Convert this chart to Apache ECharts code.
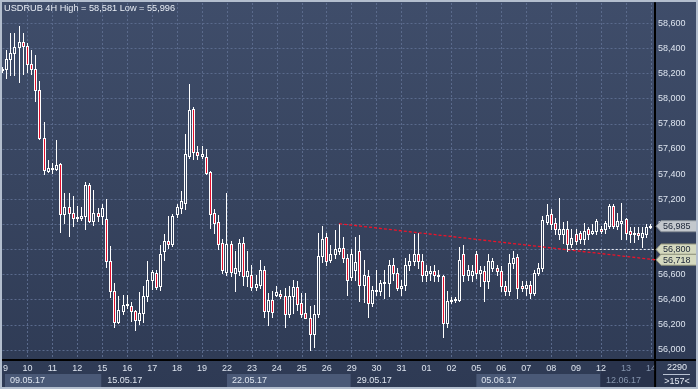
<!DOCTYPE html>
<html><head><meta charset="utf-8">
<script src="https://cdn.jsdelivr.net/npm/echarts@6.0.0/dist/echarts.min.js"></script>
<style>
html,body{margin:0;padding:0;}
#c{width:698px;height:389px;background:linear-gradient(to bottom,#3f4d6a 0%,#37445f 50%,#2e3a54 100%);}
</style>
</head><body><div id="c"></div>
<script>
const dayLabels = ['9','10','11','12','15','16','17','18','19','22','23','24','25','26','29','30','31','01','02','05','06','07','08','09','12','13','14'];
const weekLabels = ['09.05.17','15.05.17','22.05.17','29.05.17','05.06.17','12.06.17'];
const weekStartBar = [0,24,54,84,114,144];

const opens = [58226,58234,58320,58366,58410,58450,58420,58280,58240,58066,
57690,57426,57448,57440,57480,57085,57138,57093,57050,57052,
57066,57314,57026,57088,57066,57040,56706,56472,56221,56312,
56354,56352,56312,56240,56293,56426,56560,56613,56506,56786,
56866,56840,57080,57128,57173,57546,57920,57578,57544,57538,
57420,57093,57018,56853,56620,56845,56613,56626,56853,56586,
56600,56498,56520,56640,56312,56400,56440,56445,56426,56285,
56426,56498,56373,56298,56258,56125,56285,56746,56898,56720,
56760,56786,56813,56733,56580,56640,56786,56520,56586,56373,
56480,56466,56533,56533,56680,56613,56493,56520,56680,56706,
56760,56706,56600,56613,56626,56600,56586,56213,56392,56400,
56400,56760,56600,56600,56760,56613,56626,56546,56653,56653,
56626,56506,56466,56693,56740,56506,56493,56520,56453,56613,
56653,57020,57080,57013,56920,56920,56960,56840,56920,56930,
56880,56960,56930,56950,56960,56960,56990,57146,56990,57010,
57040,56946,56920,56930,56900,56920,56982];

const closes = [58234,58320,58366,58410,58450,58420,58280,58240,58066,57690,
57432,57448,57440,57474,57085,57138,57093,57053,57058,57066,
57314,57026,57088,57066,57128,56706,56472,56221,56320,56354,
56362,56312,56240,56293,56426,56560,56621,56498,56760,56866,
56840,57066,57138,57186,57560,57912,57573,57552,57560,57408,
57085,57013,56840,56640,56845,56620,56653,56853,56586,56626,
56498,56525,56640,56312,56400,56301,56461,56426,56285,56426,
56498,56365,56285,56258,56125,56285,56746,56880,56706,56760,
56800,56813,56733,56560,56760,56700,56520,56600,56373,56480,
56466,56533,56540,56680,56613,56493,56510,56680,56706,56760,
56706,56600,56626,56626,56600,56586,56213,56392,56400,56404,
56720,56600,56640,56626,56613,56640,56546,56706,56706,56626,
56506,56466,56693,56733,56493,56493,56520,56453,56613,56653,
57034,57073,57000,56960,56960,56960,56840,56890,56870,56880,
56946,56920,56950,57026,56950,57013,57146,56990,57026,57026,
56933,56920,56930,56913,56933,56980,56985];

const highs = [58250,58386,58520,58525,58581,58525,58445,58386,58346,58140,
57813,57512,57485,57674,57490,57253,57253,57226,57146,57138,
57338,57330,57274,57128,57160,57202,56826,56533,56426,56434,
56434,56378,56320,56461,56506,56706,56640,56637,56834,56920,
57066,57080,57160,57266,57720,58120,57933,57626,57626,57600,
57426,57120,57072,56880,57250,56866,56786,56880,56898,56786,
56680,56600,56720,56666,56453,56466,56506,56480,56493,56506,
56560,56546,56453,56453,56346,56360,56933,56990,56933,56834,
56954,57005,56898,56760,56800,56898,56914,56720,56640,56506,
56640,56560,56640,56720,56733,56653,56560,56733,56760,56925,
56933,56760,56680,56666,56680,56640,56600,56466,56420,56420,
56818,56834,56680,56680,56786,56666,56666,56760,56733,56680,
56666,56546,56760,56786,56760,56546,56546,56546,56640,56693,
57066,57160,57120,57050,57210,57020,57026,56960,56960,56950,
57013,56980,57000,57040,56990,57026,57160,57160,57093,57173,
57053,56980,56980,56980,56980,57000,57000];

const lows = [58210,58162,58186,58190,58130,58195,58213,58200,57980,57680,
57400,57413,57405,57435,56940,57013,56906,56986,57026,57034,
56960,57020,56992,57026,57000,56658,56418,56186,56213,56290,
56330,56232,56160,56205,56226,56386,56488,56482,56480,56720,
56813,56830,57060,57093,57120,57530,57520,57520,57530,57400,
56973,56933,56800,56610,56600,56586,56466,56600,56520,56506,
56480,56480,56493,56266,56200,56266,56426,56413,56186,56266,
56293,56320,56266,56253,55996,56026,56260,56700,56680,56700,
56730,56760,56700,56440,56560,56560,56386,56380,56266,56346,
56440,56440,56413,56430,56560,56480,56440,56480,56640,56680,
56653,56546,56546,56560,56546,56546,56106,56186,56373,56380,
56386,56546,56560,56546,56573,56506,56386,56493,56626,56600,
56466,56440,56440,56653,56413,56466,56440,56413,56440,56600,
56626,57000,56960,56920,56880,56850,56786,56820,56840,56850,
56840,56880,56920,56920,56930,56930,56970,56970,56960,56880,
56880,56860,56860,56880,56820,56900,56970];

const trendX = [81, 157];
const trendY = [57005, 56718];
const levelX = [136, 157];
const levelY = [56800, 56800];
const lastPrice = 56985;
const tagValues = [56800, 56718];
const titleText = 'USDRUB 4H High = 58,581 Low = 55,996';
const cornerTop = '2290';
const cornerBottom = '>157<';

const FONT = '"Liberation Sans", Arial, sans-serif';
const nBars = opens.length;
const categories = [];
for (let i = 0; i <= nBars; i++) categories.push(i % 6 === 0 && i < nBars ? dayLabels[i / 6] : '');
const candleData = opens.map((o, i) => [i, o, closes[i], lows[i], highs[i]]);
const fmt = v => Math.floor(v / 1000) + ',' + String(Math.round(v % 1000)).padStart(3, '0');

const BG_TOP = [0x3f, 0x4d, 0x6a], BG_MID = [0x37, 0x44, 0x5f], BG_BOT = [0x2e, 0x3a, 0x54];
function bgAt(y) {
  const t = Math.max(0, Math.min(1, y / 389));
  let a, b, u;
  if (t < 0.5) { a = BG_TOP; b = BG_MID; u = t / 0.5; } else { a = BG_MID; b = BG_BOT; u = (t - 0.5) / 0.5; }
  const c = a.map((v, k) => Math.round(v + (b[k] - v) * u));
  return 'rgb(' + c.join(',') + ')';
}

function renderCandle(params, api) {
  const idx = api.value(0);
  const o = api.value(1), c = api.value(2), l = api.value(3), h = api.value(4);
  const px = api.coord([idx, o]);
  const xc = Math.floor(px[0]);
  const yo = Math.round(px[1]);
  const yc = Math.round(api.coord([idx, c])[1]);
  const yl = Math.round(api.coord([idx, l])[1]);
  const yh = Math.round(api.coord([idx, h])[1]);
  const top = Math.min(yo, yc), bot = Math.max(yo, yc);
  const bull = c >= o;
  const children = [
    {type: 'rect', shape: {x: xc, y: yh, width: 1, height: yl - yh + 1}, style: {fill: '#ffffff'}},
    {type: 'rect', shape: {x: xc - 1, y: top, width: 3, height: bot - top + 1}, style: {fill: '#ffffff'}}
  ];
  if (bot - top >= 2) {
    children.push({type: 'rect', shape: {x: xc, y: top + 1, width: 1, height: bot - top - 1},
      style: {fill: bull ? bgAt((top + bot) / 2) : '#e3102d'}});
  }
  return {type: 'group', children: children};
}

const chart = echarts.init(document.getElementById('c'), null, {renderer: 'canvas'});
const GRID_LEFT = 1.84, GRID_RIGHT_X = 655.1, GRID_TOP = 3, GRID_BOTTOM_Y = 360;
chart.setOption({
  animation: false,
  backgroundColor: 'transparent',
  grid: {left: GRID_LEFT, right: 698 - GRID_RIGHT_X, top: GRID_TOP, bottom: 389 - GRID_BOTTOM_Y, containLabel: false},
  xAxis: {
    type: 'category', data: categories, boundaryGap: false,
    axisLine: {show: true, lineStyle: {color: '#000000', width: 2}},
    axisTick: {show: false},
    axisLabel: {
      interval: (i) => i % 6 === 0, margin: 4, color: '#dde4ef', fontSize: 9, fontFamily: FONT,
      formatter: (v, i) => i >= 150 ? '{d|' + v + '}' : (i === 0 ? '{f|' + v + '}' : v),
      rich: {d: {color: '#8594ad', fontSize: 9, fontFamily: FONT}, f: {color: '#dde4ef', fontSize: 9, fontFamily: FONT, padding: [0, 0, 0, 6]}}
    },
    splitLine: {show: true, interval: (i) => i % 6 === 0 && i > 0, lineStyle: {color: '#5a6a8c', width: 1, type: [2, 2]}}
  },
  yAxis: {
    type: 'value', position: 'right', min: 55920, max: 58762, splitNumber: 14, scale: true,
    axisLine: {show: true, lineStyle: {color: '#000000', width: 2}},
    axisTick: {show: false},
    axisLabel: {margin: 3, color: '#dde4ef', fontSize: 9, fontFamily: FONT,
      formatter: v => (Math.abs(v % 200) < 0.001 ? fmt(v) : '')},
    splitLine: {show: true, showMinLine: false, showMaxLine: false, lineStyle: {color: '#5a6a8c', width: 1, type: [2, 2]}}
  },
  series: [
    {type: 'custom', data: candleData, renderItem: renderCandle, encode: {x: 0, y: [1, 2, 3, 4]}, clip: true, silent: true, z: 3},
    {type: 'line', data: trendX.map((x, i) => [x, trendY[i]]), symbol: 'none', silent: true,
      lineStyle: {color: '#f01228', width: 1.3, type: [3, 2]}, z: 4},
    {type: 'line', data: levelX.map((x, i) => [x, levelY[i]]), symbol: 'none', silent: true,
      lineStyle: {color: '#eef1f6', width: 1, type: [2, 2]}, z: 4}
  ]
});

const yPix = v => chart.convertToPixel({yAxisIndex: 0}, v);
const xPix = i => chart.convertToPixel({xAxisIndex: 0}, i);
const g = [];
for (let k = 0; k < weekLabels.length; k++) {
  const x0 = k === 0 ? 5 : xPix(weekStartBar[k]);
  const x1 = k + 1 < weekLabels.length ? xPix(weekStartBar[k + 1]) - 1 : GRID_RIGHT_X;
  if (k === weekLabels.length - 1) {
    g.push({type: 'rect', z: -1, shape: {x: x0, y: 361, width: GRID_RIGHT_X - x0, height: 27}, style: {fill: '#28324b'}});
  } else if (k % 2 === 0) {
    g.push({type: 'rect', z: -1, shape: {x: x0, y: 374, width: x1 - x0, height: 13}, style: {fill: '#4a5977'}});
  }
  g.push({type: 'text', z: 5, x: x0 + 5, y: 381, style: {text: weekLabels[k], fill: k === weekLabels.length - 1 ? '#8594ad' : '#dde4ef', font: '9px ' + FONT, align: 'left', verticalAlign: 'middle'}});
}
g.push({type: 'line', z: 5, shape: {x1: GRID_RIGHT_X, y1: GRID_BOTTOM_Y, x2: 698, y2: GRID_BOTTOM_Y}, style: {stroke: '#000000', lineWidth: 2}});
g.push({type: 'line', z: 5, shape: {x1: GRID_RIGHT_X, y1: GRID_BOTTOM_Y, x2: GRID_RIGHT_X, y2: 389}, style: {stroke: '#000000', lineWidth: 2}});
g.push({type: 'text', z: 5, x: 677, y: 367.5, style: {text: cornerTop, fill: '#e6ecf5', font: '9px ' + FONT, align: 'center', verticalAlign: 'middle'}});
g.push({type: 'line', z: 5, shape: {x1: 663, y1: 374.5, x2: 690, y2: 374.5}, style: {stroke: '#b8c2d2', lineWidth: 1}});
g.push({type: 'text', z: 5, x: 677, y: 381.5, style: {text: cornerBottom, fill: '#e6ecf5', font: '9px ' + FONT, align: 'center', verticalAlign: 'middle'}});
function tag(v, fill, stroke) {
  const y = yPix(v);
  g.push({type: 'polygon', z: 8, shape: {points: [[656, y], [661, y - 5.5], [697, y - 5.5], [697, y + 5.5], [661, y + 5.5]]}, style: {fill: fill, stroke: stroke, lineWidth: 1}});
  g.push({type: 'text', z: 9, x: 663, y: y + 0.5, style: {text: fmt(v), fill: '#1a2436', font: '9px ' + FONT, align: 'left', verticalAlign: 'middle'}});
}
tag(lastPrice, '#c3c8cd', '#8a9199');
tag(tagValues[0], '#d5d9bf', '#8c8e78');
tag(tagValues[1], '#d5d9bf', '#8c8e78');
g.push({type: 'text', z: 9, x: 4, y: 8, style: {text: titleText, fill: '#e8edf5', font: '9.2px ' + FONT, align: 'left', verticalAlign: 'middle'}});
g.push({type: 'rect', z: 10, shape: {x: 1, y: 1, width: 696, height: 387}, style: {fill: 'none', stroke: '#b3bece', lineWidth: 2}});
chart.setOption({graphic: {elements: g}});
</script>
</body></html>
